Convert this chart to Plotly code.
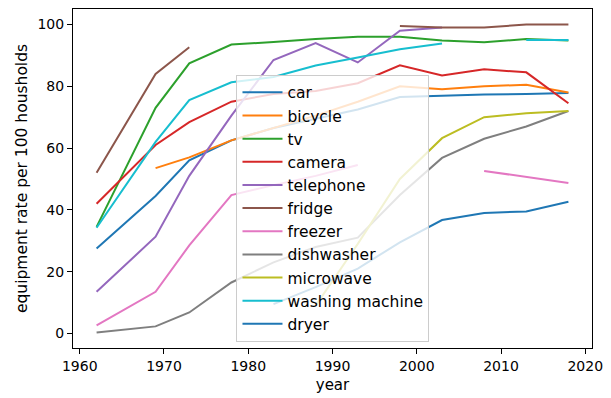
import plotly.graph_objects as go

# Survey years
years = [1962, 1969, 1973, 1978, 1983, 1988, 1993, 1998, 2003, 2008, 2013, 2018]

# Equipment rate per 100 households (None = not surveyed)
car = [27.5, 44.5, 56, 62.5, 66.5, 69.5, 72.5, 76.5, 77, 77.3, 77.5, 77.8]
bicycle = [None, 53.5, 57, 62.5, 66.5, 70.5, 75, 80, 79, 80, 80.5, 78]
tv = [34.5, 73, 87.4, 93.5, 94.3, 95.3, 96, 96, 94.8, 94.2, 95.3, 94.8]
camera = [42, 61, 68.4, 75, 77.5, 78.5, 81, 86.8, 83.5, 85.5, 84.5, 74.5]
telephone = [13.5, 31.3, 51, 70.5, 88.5, 94, 87.7, 98, 99, None, None, None]
fridge = [52, 84, 92.6, None, None, None, None, 99.5, 99, 99, 100, 100]
freezer = [2.6, 13.5, 28.5, 44.8, 48, 51, 54.5, None, None, 52.6, 50.7, 48.7]
dishwasher = [0.3, 2.3, 6.8, 16.5, 23, 28, 31, 44.8, 56.8, 63, 67, 72]
microwave = [None, None, None, None, None, 9, 29, 50, 63.2, 70, 71.3, 72]
washing_machine = [34.2, 62, 75.5, 81.3, 83, 86.7, 89.3, 92, 93.8, None, 95, 95]
dryer = [None, None, None, None, 9.5, 15, 21, 29.5, 36.7, 39, 39.5, 42.6]

labels = ["car", "bicycle", "tv", "camera", "telephone", "fridge", "freezer",
          "dishwasher", "microwave", "washing machine", "dryer"]
series = [car, bicycle, tv, camera, telephone, fridge, freezer,
          dishwasher, microwave, washing_machine, dryer]
colors = ["#1f77b4", "#ff7f0e", "#2ca02c", "#d62728", "#9467bd", "#8c564b",
          "#e377c2", "#7f7f7f", "#bcbd22", "#17becf", "#1f77b4"]

fig = go.Figure()
for name, vals, col in zip(labels, series, colors):
    fig.add_trace(go.Scatter(x=years, y=vals, mode="lines", name=name,
                             line=dict(color=col, width=2), connectgaps=False))

font = "DejaVu Sans"
axis_common = dict(showline=True, mirror=True, linecolor="black", linewidth=1,
                   ticks="outside", ticklen=5, tickcolor="black", showgrid=False,
                   zeroline=False, tickfont=dict(family=font, size=14, color="black"))

fig.update_layout(
    width=611, height=398,
    margin=dict(l=73, r=14, t=8, b=50),
    paper_bgcolor="white", plot_bgcolor="white",
    font=dict(family=font, color="black"),
    xaxis=dict(range=[1959.2, 2020.8], tickvals=[1960, 1970, 1980, 1990, 2000, 2010, 2020],
               title=dict(text="year", font=dict(family=font, size=15), standoff=6),
               **axis_common),
    yaxis=dict(range=[-4.7, 105], tickvals=[0, 20, 40, 60, 80, 100],
               title=dict(text="equipment rate per 100 housholds",
                          font=dict(family=font, size=15.5), standoff=6),
               **axis_common),
    legend=dict(x=0.315, y=0.806, xanchor="left", yanchor="top",
                bgcolor="rgba(255,255,255,0.8)", bordercolor="#cccccc", borderwidth=1,
                font=dict(family=font, size=15.5, color="black"),
                tracegroupgap=0, itemwidth=40),
    showlegend=True,
)

fig.write_html("out.html")
